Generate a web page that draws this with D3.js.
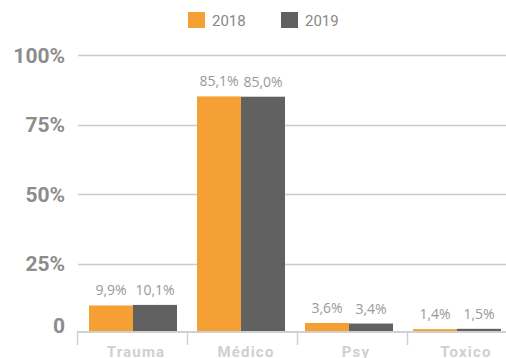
<!DOCTYPE html>
<html><head><meta charset="utf-8">
<script src="https://cdn.jsdelivr.net/npm/d3@7/dist/d3.min.js"></script>
<style>body{margin:0;background:#fff}svg{display:block;font-family:Roboto,"Open Sans",sans-serif}</style>
</head><body><svg id="c" width="506" height="358"></svg>
<script>
const categories = ["Trauma", "Médico", "Psy", "Toxico"];
const series = ["2018", "2019"];
const values2018 = [9.9, 85.1, 3.6, 1.4];
const values2019 = [10.1, 85.0, 3.4, 1.5];
const yTicks = [0, 25, 50, 75, 100];
const yTickLabels = ["0", "25%", "50%", "75%", "100%"];
const colors = ["#F4A035", "#616161"];

const svg = d3.select("#c");
const y = d3.scaleLinear().domain([0, 100]).range([333, 55]);
const x = d3.scaleBand().domain(categories).range([79, 511]).paddingInner(20/108).paddingOuter(10/108);
const xs = d3.scaleBand().domain(series).range([0, x.bandwidth()]);
const xt = d3.scaleBand().domain(categories).range([77, 517]);
const fmt = v => v.toFixed(1).replace(".", ",") + "%";

// gridlines
svg.append("g").selectAll("line").data(yTicks.slice(1)).join("line")
  .attr("x1", 78).attr("x2", 506).attr("y1", d => Math.round(y(d)) + 0.5).attr("y2", d => Math.round(y(d)) + 0.5)
  .attr("stroke", "#cccccc").attr("stroke-width", 1.5);

// y labels
svg.append("g").selectAll("text").data(yTicks).join("text")
  .attr("x", 65).attr("y", d => y(d) + (d === 0 ? -8 : 0)).attr("dy", "0.36em")
  .attr("text-anchor", "end").attr("font-size", 21).attr("font-weight", "bold").attr("fill", "#8c8c8c")
  .text((d, i) => yTickLabels[i]);

// bars
const data = categories.map((c, i) => ({c, vals: [values2018[i], values2019[i]]}));
const g = svg.append("g").selectAll("g").data(data).join("g").attr("transform", d => `translate(${x(d.c)},0)`);
g.selectAll("rect").data(d => d.vals.map((v, j) => ({s: series[j], v, j}))).join("rect")
  .attr("x", d => xs(d.s)).attr("width", xs.bandwidth())
  .attr("y", d => y(d.v)).attr("height", d => y(0) - y(d.v))
  .attr("fill", d => colors[d.j]);
g.selectAll("text").data(d => d.vals.map((v, j) => ({s: series[j], v, j}))).join("text")
  .attr("x", d => xs(d.s) + xs.bandwidth() / 2).attr("y", d => y(d.v) - 10)
  .attr("text-anchor", "middle").attr("font-family", "'Open Sans', sans-serif").attr("font-size", 14).attr("fill", "#999")
  .text(d => fmt(d.v));

// x axis
const ax = svg.append("g");
ax.append("line").attr("x1", 77).attr("x2", 506).attr("y1", 332).attr("y2", 332).attr("stroke", "#d0d0d0").attr("stroke-width", 2);
ax.selectAll("line.t").data(categories).join("line").attr("class", "t")
  .attr("x1", d => xt(d) + 0.5).attr("x2", d => xt(d) + 0.5).attr("y1", 332).attr("y2", 345)
  .attr("stroke", "#d0d0d0").attr("stroke-width", 1.5);
ax.selectAll("text").data(categories).join("text")
  .attr("x", d => xt(d) + xt.bandwidth() / 2 + 4).attr("y", 357)
  .attr("text-anchor", "middle").attr("font-size", 15).attr("font-weight", "bold")
  .attr("letter-spacing", 1.2).attr("fill", "#d0d0d0").text(d => d);

// legend
const lg = svg.append("g").selectAll("g").data(series).join("g")
  .attr("transform", (d, i) => `translate(${188 + i * 93},12)`);
lg.append("rect").attr("width", 17).attr("height", 16).attr("fill", (d, i) => colors[i]);
lg.append("text").attr("x", 24).attr("y", 14).attr("font-size", 15).attr("fill", "#888").text(d => d);
</script></body></html>
